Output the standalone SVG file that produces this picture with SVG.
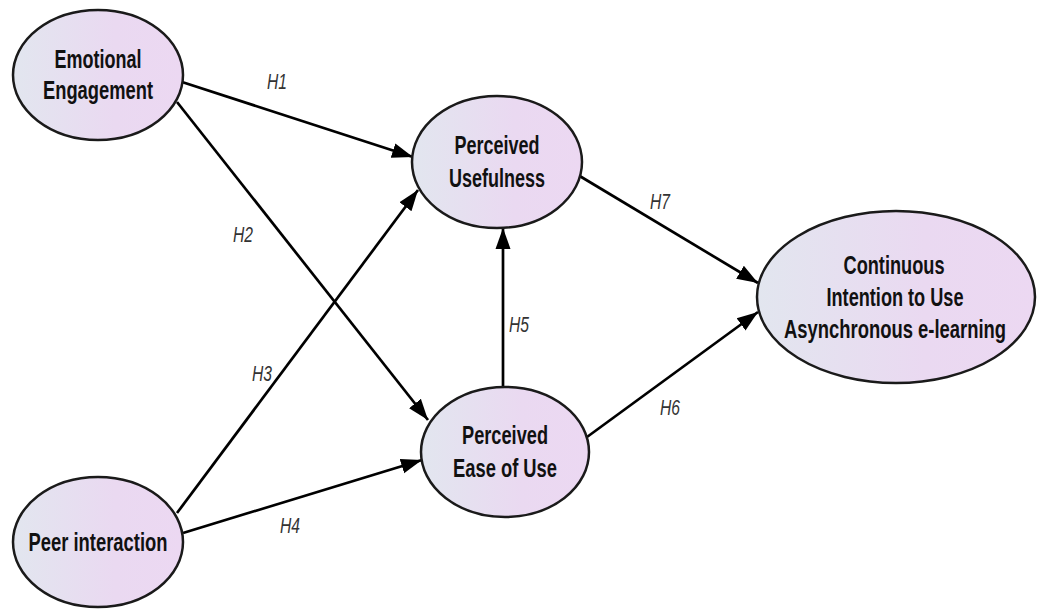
<svg xmlns="http://www.w3.org/2000/svg" width="1042" height="609" viewBox="0 0 1042 609">
<defs>
<linearGradient id="fill" x1="0" y1="0" x2="1" y2="0">
<stop offset="0" stop-color="#e2e6ef"/>
<stop offset="0.6" stop-color="#ead9f1"/>
<stop offset="1" stop-color="#ecd8f2"/>
</linearGradient>
<marker id="arrow" markerUnits="userSpaceOnUse" markerWidth="22" markerHeight="18" viewBox="0 0 22 18" refX="21" refY="9" orient="auto">
<path d="M0,1.5 L21,9 L0,16.5 Z" fill="#000"/>
</marker>
<style>
.node ellipse{fill:url(#fill);stroke:#1a1a1a;stroke-width:2.5}
.node text{font-family:"Liberation Sans",Arial,sans-serif;font-weight:bold;font-size:25px;fill:#111;text-anchor:middle}
.edges line{stroke:#000;stroke-width:2.7;marker-end:url(#arrow)}
.lbl{font-family:"Liberation Sans",Arial,sans-serif;font-style:italic;font-size:22px;fill:#333;text-anchor:middle}
</style>
</defs>
<rect width="1042" height="609" fill="#fff"/>
<g class="edges" id="connectors">
<line x1="182" y1="82" x2="413" y2="157"/>
<line x1="177" y1="102" x2="428" y2="420"/>
<line x1="177" y1="513" x2="418" y2="190"/>
<line x1="183" y1="533" x2="422" y2="460"/>
<line x1="503" y1="387" x2="503" y2="228"/>
<line x1="587" y1="437" x2="758" y2="312"/>
<line x1="578" y1="175" x2="758" y2="283"/>
<text class="lbl" x="277" y="89" textLength="20" lengthAdjust="spacingAndGlyphs">H1</text>
<text class="lbl" x="243" y="242" textLength="20" lengthAdjust="spacingAndGlyphs">H2</text>
<text class="lbl" x="262" y="381" textLength="20" lengthAdjust="spacingAndGlyphs">H3</text>
<text class="lbl" x="290" y="533" textLength="20" lengthAdjust="spacingAndGlyphs">H4</text>
<text class="lbl" x="519" y="332" textLength="20" lengthAdjust="spacingAndGlyphs">H5</text>
<text class="lbl" x="670" y="415" textLength="20" lengthAdjust="spacingAndGlyphs">H6</text>
<text class="lbl" x="660" y="209" textLength="20" lengthAdjust="spacingAndGlyphs">H7</text>
</g>
<g class="node" id="emotional-engagement">
<ellipse cx="98" cy="75" rx="85" ry="65"/>
<text x="98" y="68" textLength="87" lengthAdjust="spacingAndGlyphs">Emotional</text>
<text x="98" y="99" textLength="110" lengthAdjust="spacingAndGlyphs">Engagement</text>
</g>
<g class="node" id="perceived-usefulness">
<ellipse cx="497" cy="162" rx="85" ry="66"/>
<text x="497" y="154" textLength="85" lengthAdjust="spacingAndGlyphs">Perceived</text>
<text x="497" y="187" textLength="96" lengthAdjust="spacingAndGlyphs">Usefulness</text>
</g>
<g class="node" id="perceived-ease-of-use">
<ellipse cx="505" cy="452" rx="84" ry="65"/>
<text x="505" y="444" textLength="86" lengthAdjust="spacingAndGlyphs">Perceived</text>
<text x="505" y="477" textLength="104" lengthAdjust="spacingAndGlyphs">Ease of Use</text>
</g>
<g class="node" id="peer-interaction">
<ellipse cx="98" cy="542" rx="85" ry="65"/>
<text x="98" y="551" textLength="139" lengthAdjust="spacingAndGlyphs">Peer interaction</text>
</g>
<g class="node" id="continuous-intention">
<ellipse cx="896" cy="297" rx="139" ry="86"/>
<text x="894" y="274" textLength="101" lengthAdjust="spacingAndGlyphs">Continuous</text>
<text x="895" y="306" textLength="137" lengthAdjust="spacingAndGlyphs">Intention to Use</text>
<text x="895" y="338" textLength="222" lengthAdjust="spacingAndGlyphs">Asynchronous e-learning</text>
</g>
</svg>
